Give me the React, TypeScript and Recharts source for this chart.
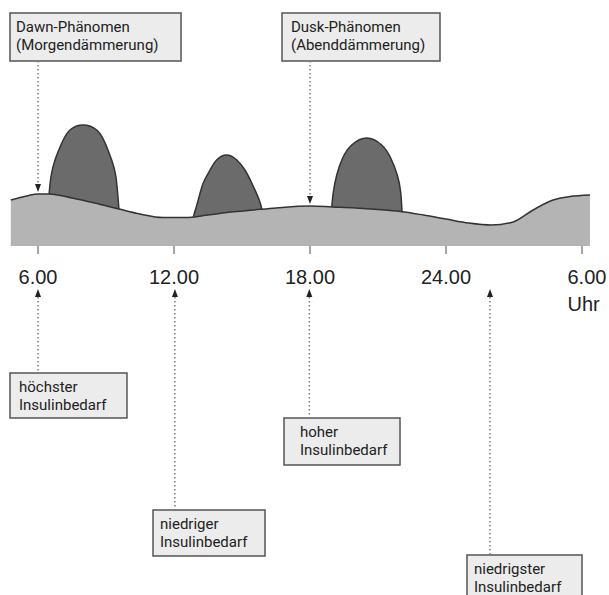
import { Area, ComposedChart, ReferenceArea, ReferenceDot, ReferenceLine, XAxis, YAxis } from "recharts";

// time of day in hours (6 = 6.00, 30 = 6.00 next morning); v = height above the x axis
const baseline = [
  { h: 4.8, v: 46 }, { h: 5.5, v: 50 }, { h: 6.0, v: 52 }, { h: 6.5, v: 52 }, { h: 7.5, v: 48 },
  { h: 8.5, v: 43 }, { h: 9.57, v: 37 }, { h: 10.5, v: 32 }, { h: 11.5, v: 28.5 }, { h: 12.5, v: 28.5 },
  { h: 13.5, v: 31 }, { h: 14.5, v: 34 }, { h: 15.5, v: 36 }, { h: 16.5, v: 38 }, { h: 18, v: 40 },
  { h: 19, v: 39 }, { h: 20, v: 38 }, { h: 21, v: 36.5 }, { h: 22, v: 34.5 }, { h: 23, v: 31 },
  { h: 24, v: 27 }, { h: 25, v: 23 }, { h: 26, v: 21 }, { h: 26.96, v: 24 }, { h: 27.84, v: 36 },
  { h: 28.72, v: 46 }, { h: 29.47, v: 49.5 }, { h: 30.35, v: 51 },
];

const breakfast = [
  { h: 6.49, v: 52 }, { h: 6.57, v: 69 }, { h: 6.75, v: 86 }, { h: 7.05, v: 103 }, { h: 7.41, v: 116 },
  { h: 7.99, v: 121 }, { h: 8.59, v: 116 }, { h: 8.96, v: 103 }, { h: 9.25, v: 86 }, { h: 9.44, v: 69 },
  { h: 9.57, v: 37 },
];

const lunch = [
  { h: 12.85, v: 29 }, { h: 13.07, v: 46 }, { h: 13.29, v: 63 }, { h: 13.59, v: 76 }, { h: 13.88, v: 86 },
  { h: 14.32, v: 91 }, { h: 14.77, v: 86 }, { h: 15.13, v: 76 }, { h: 15.43, v: 63 }, { h: 15.76, v: 46 },
  { h: 15.88, v: 36 },
];

const dinner = [
  { h: 18.96, v: 39 }, { h: 19.03, v: 54 }, { h: 19.18, v: 71 }, { h: 19.44, v: 88 }, { h: 19.84, v: 101 },
  { h: 20.5, v: 108 }, { h: 21.16, v: 101 }, { h: 21.56, v: 88 }, { h: 21.85, v: 71 }, { h: 22.0, v: 54 },
  { h: 22.06, v: 34 },
];

const hourTicks = [6, 12, 18, 24, 30];
const tickLabels = ["6.00", "12.00", "18.00", "24.00", "6.00"];

const topNotes = [
  { lines: ["Dawn-Phänomen", "(Morgendämmerung)"], x1: 4.765, x2: 12.31, y1: 233, y2: 185, at: 6, tip: 54, pad: 6 },
  { lines: ["Dusk-Phänomen", "(Abenddämmerung)"], x1: 16.765, x2: 23.735, y1: 233, y2: 185, at: 18, tip: 42, pad: 9 },
];

const bottomNotes = [
  { lines: ["höchster", "Insulinbedarf"], x1: 4.765, x2: 9.926, y1: -127, y2: -172, at: 6, pad: 9 },
  { lines: ["niedriger", "Insulinbedarf"], x1: 11.074, x2: 16.015, y1: -264, y2: -310, at: 12.04, pad: 7 },
  { lines: ["hoher", "Insulinbedarf"], x1: 16.853, x2: 21.971, y1: -172, y2: -219, at: 17.97, pad: 16 },
  { lines: ["niedrigster", "Insulinbedarf"], x1: 24.926, x2: 30.0, y1: -309, y2: -370, at: 25.94, pad: 7 },
];
const upTip = -43;

const BOX_FONT = "Roboto, 'Liberation Sans', Arial, sans-serif";
const TICK_FONT = "'Liberation Sans', Arial, Helvetica, sans-serif";
const DOTS = { stroke: "#7a7a7a", strokeWidth: 1.5, strokeDasharray: "1.5 2.5" };

function noteBox(lines: string[], pad: number) {
  return (p: any) => (
    <g>
      <rect x={p.x} y={p.y} width={p.width} height={p.height} fill="#ececec" stroke="#555" strokeWidth={1.5} />
      {lines.map((t, i) => (
        <text key={i} x={p.x + pad} y={p.y + 18.5 + i * 18} fontFamily={BOX_FONT} fontSize={15} fill="#222">
          {t}
        </text>
      ))}
    </g>
  );
}

const arrowDown = (p: any) => (
  <path d={`M${p.cx - 3},${p.cy - 8}L${p.cx + 3},${p.cy - 8}L${p.cx},${p.cy}Z`} fill="#222" />
);
const arrowUp = (p: any) => (
  <path d={`M${p.cx - 3},${p.cy + 8}L${p.cx + 3},${p.cy + 8}L${p.cx},${p.cy}Z`} fill="#222" />
);

function HourTick(props: any) {
  const { x, y, index } = props;
  const last = index === tickLabels.length - 1;
  return (
    <g fontFamily={TICK_FONT} fontSize={20} fill="#222">
      <text x={last ? x - 14.5 : x} y={y + 28} textAnchor={last ? "start" : "middle"}>{tickLabels[index]}</text>
      {last && <text x={x - 14.5} y={y + 55} textAnchor="start">Uhr</text>}
    </g>
  );
}

export default function App() {
  return (
    <div style={{ position: "absolute", left: 0, top: 0, background: "#fff" }}>
      <ComposedChart width={609} height={595} margin={{ top: 116, right: 4.33, bottom: 319, left: 4 }}>
        <XAxis dataKey="h" type="number" domain={[4.5, 31]} ticks={hourTicks} axisLine={false} height={30}
               tickSize={8} tickLine={{ stroke: "#888", strokeWidth: 1.5 }} tick={<HourTick />} interval={0} />
        <YAxis hide domain={[0, 130]} />
        {[breakfast, lunch, dinner].map((d, i) => (
          <Area key={i} data={d} dataKey="v" type="natural" fill="#6b6b6b" fillOpacity={1}
                stroke="#333" strokeWidth={1.5} isAnimationActive={false} dot={false} activeDot={false} />
        ))}
        <Area data={baseline} dataKey="v" type="monotone" fill="#b4b4b4" fillOpacity={1}
              stroke="#333" strokeWidth={1.5} isAnimationActive={false} dot={false} activeDot={false} />

        {topNotes.map((n, i) => (
          <ReferenceLine key={`tl${i}`} segment={[{ x: n.at, y: n.y2 }, { x: n.at, y: n.tip + 8 }]}
                         ifOverflow="visible" {...DOTS} />
        ))}
        {topNotes.map((n, i) => (
          <ReferenceDot key={`td${i}`} x={n.at} y={n.tip} ifOverflow="visible" shape={arrowDown} />
        ))}
        {topNotes.map((n, i) => (
          <ReferenceArea key={`tb${i}`} x1={n.x1} x2={n.x2} y1={n.y1} y2={n.y2} ifOverflow="visible"
                         shape={noteBox(n.lines, n.pad)} />
        ))}

        {bottomNotes.map((n, i) => (
          <ReferenceLine key={`bl${i}`} segment={[{ x: n.at, y: upTip - 8 }, { x: n.at, y: n.y1 }]}
                         ifOverflow="visible" {...DOTS} />
        ))}
        {bottomNotes.map((n, i) => (
          <ReferenceDot key={`bd${i}`} x={n.at} y={upTip} ifOverflow="visible" shape={arrowUp} />
        ))}
        {bottomNotes.map((n, i) => (
          <ReferenceArea key={`bb${i}`} x1={n.x1} x2={n.x2} y1={n.y1} y2={n.y2} ifOverflow="visible"
                         shape={noteBox(n.lines, n.pad)} />
        ))}
      </ComposedChart>
    </div>
  );
}
